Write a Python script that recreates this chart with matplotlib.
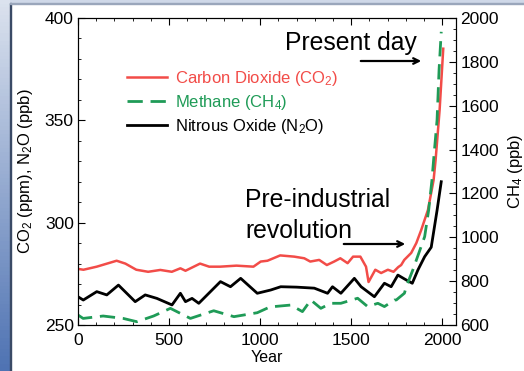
import numpy as np
import matplotlib
matplotlib.use('Agg')
import matplotlib.pyplot as plt
from matplotlib.patches import Rectangle

plt.rcParams['font.family'] = ['Liberation Sans', 'DejaVu Sans']
plt.rcParams['mathtext.default'] = 'regular'

# CO2 (ppm), left axis
co2_year = [0, 30, 103, 212, 260, 320, 385, 452, 515, 562, 590, 670, 720, 780, 870, 963,
            1003, 1040, 1110, 1187, 1242, 1275, 1324, 1366, 1406, 1440, 1480, 1510, 1550,
            1581, 1595, 1632, 1664, 1701, 1732, 1758, 1774, 1791, 1829, 1857, 1884, 1921,
            1952, 1963, 1985, 2005]
co2_val = [277.4, 277, 278.5, 281.4, 280, 277, 276, 276.9, 276, 277.7, 276.5, 280, 278.5,
           278.5, 279, 278.5, 281, 281.4, 284, 283.4, 282.6, 281, 281.8, 279.3, 281, 282.6,
           280.2, 283.4, 283.4, 278.5, 271, 277, 275.4, 277, 276, 278.3, 279.3, 281.8,
           285.2, 290, 296.4, 306.2, 320.8, 330.6, 355, 385]

# N2O (ppb), left axis
n2o_year = [0, 29, 103, 158, 222, 314, 369, 433, 516, 562, 590, 626, 663, 782, 837, 893,
            984, 1058, 1113, 1200, 1297, 1370, 1397, 1443, 1517, 1554, 1627, 1682, 1719,
            1756, 1792, 1802, 1835, 1866, 1903, 1939, 1971, 1994]
n2o_val = [263.8, 262.2, 266.3, 264.7, 269.5, 261.4, 264.7, 263, 259.8, 265.5, 261.4, 263,
           260.6, 271.2, 268.7, 272.8, 265.5, 267.1, 268.7, 268.5, 268, 265.5, 268.7, 265.5,
           272.8, 268.7, 263.8, 270.4, 268.7, 274.4, 272.5, 272, 270.4, 276.9, 283.4, 288,
           306, 320]

# CH4 (ppb), right axis
ch4_year = [0, 28, 138, 248, 323, 415, 507, 617, 745, 856, 984, 1058, 1075, 1168, 1232,
            1278, 1333, 1388, 1443, 1535, 1590, 1646, 1682, 1737, 1747, 1792, 1802, 1838,
            1871, 1903, 1925, 1943, 1952, 1971, 1982, 1994]
ch4_val = [645.6, 630, 641, 630, 615, 641, 676, 630, 665, 638, 656, 684, 684, 691, 661,
           714, 676, 699, 699, 722, 684, 699, 684, 714, 714, 745, 775, 851, 928, 1003,
           1124, 1261, 1352, 1535, 1763, 1937]

red = '#f24c48'
green = '#1f9b57'

fig = plt.figure(figsize=(5.24, 3.71), dpi=100)
fig.patch.set_facecolor('white')

# slide frame
grad = np.linspace(0, 1, 100).reshape(-1, 1)
bg = fig.add_axes([0, 0, 10 / 524, 1])
bg.imshow(grad, aspect='auto', cmap=matplotlib.colors.LinearSegmentedColormap.from_list(
    'sl', ['#dbe2ee', '#4f73b3']), extent=[0, 1, 0, 1], origin='upper')
bg.axis('off')
fig.add_artist(Rectangle((0, 1 - 3 / 371), 1, 3 / 371, transform=fig.transFigure,
                         color='#cfd8e8', zorder=0))
fig.add_artist(Rectangle((10 / 524, 0), 1.2 / 524, 1 - 3 / 371, transform=fig.transFigure,
                         color='#3a4a66', zorder=5))
fig.add_artist(Rectangle((10 / 524, 1 - 4 / 371), 1, 1 / 371, transform=fig.transFigure,
                         color='#9aa6bb', zorder=5))

ax = fig.add_axes([78 / 524, 46 / 371, 378 / 524, 307 / 371])
ax2 = ax.twinx()

l1, = ax.plot(co2_year, co2_val, color=red, lw=1.8, label='Carbon Dioxide (CO$_2$)')
l3, = ax.plot(n2o_year, n2o_val, color='black', lw=2.0, label='Nitrous Oxide (N$_2$O)')
l2, = ax2.plot(ch4_year, ch4_val, color=green, lw=2.0, dashes=(5.5, 2.8),
               label='Methane (CH$_4$)')

ax.set_xlim(0, 2075)
ax.set_ylim(250, 400)
ax2.set_ylim(600, 2000)

ax.set_xticks([0, 500, 1000, 1500, 2000])
ax.set_xticks(np.arange(0, 2001, 100), minor=True)
ax.set_yticks([250, 300, 350, 400])
ax.set_yticks(np.arange(250, 401, 10), minor=True)
ax2.set_yticks([600, 800, 1000, 1200, 1400, 1600, 1800, 2000])
ax2.set_yticks(np.arange(600, 2001, 50), minor=True)

ax.tick_params(which='both', direction='in', top=True, labelsize=12.5)
ax.tick_params(axis='x', pad=6)
ax.tick_params(axis='y', pad=3)
ax.tick_params(which='major', length=5)
ax.tick_params(which='minor', length=2.5)
ax2.tick_params(which='both', direction='in', labelsize=12.5, pad=3)
ax2.tick_params(which='major', length=5)
ax2.tick_params(which='minor', length=2.5)

ax.set_xlabel('Year', fontsize=11.5, labelpad=1)
ax.set_ylabel('CO$_2$ (ppm), N$_2$O (ppb)', fontsize=12, labelpad=7)
ax2.set_ylabel('CH$_4$ (ppb)', fontsize=12, labelpad=5)

leg = ax.legend([l1, l2, l3], [l1.get_label(), l2.get_label(), l3.get_label()],
                loc='upper left', bbox_to_anchor=(0.13, 0.835), frameon=False,
                fontsize=12, handlelength=2.4, handletextpad=0.5, labelspacing=0.3,
                borderaxespad=0, borderpad=0)
for txt, c in zip(leg.get_texts(), [red, green, 'black']):
    txt.set_color(c)

ax.annotate('', xy=(424, 371 - 61), xytext=(358, 371 - 61),
            xycoords='figure pixels', textcoords='figure pixels',
            arrowprops=dict(arrowstyle='->', color='black', lw=1.6))
ax.annotate('', xy=(408, 371 - 244), xytext=(341, 371 - 244),
            xycoords='figure pixels', textcoords='figure pixels',
            arrowprops=dict(arrowstyle='->', color='black', lw=1.6))
fig.text(285 / 524, 1 - 50 / 371, 'Present day', fontsize=17.8)
fig.text(245 / 524, 1 - 207 / 371, 'Pre-industrial', fontsize=17.8)
fig.text(245 / 524, 1 - 238 / 371, 'revolution', fontsize=17.8)

fig.savefig('out.png', dpi=100)
